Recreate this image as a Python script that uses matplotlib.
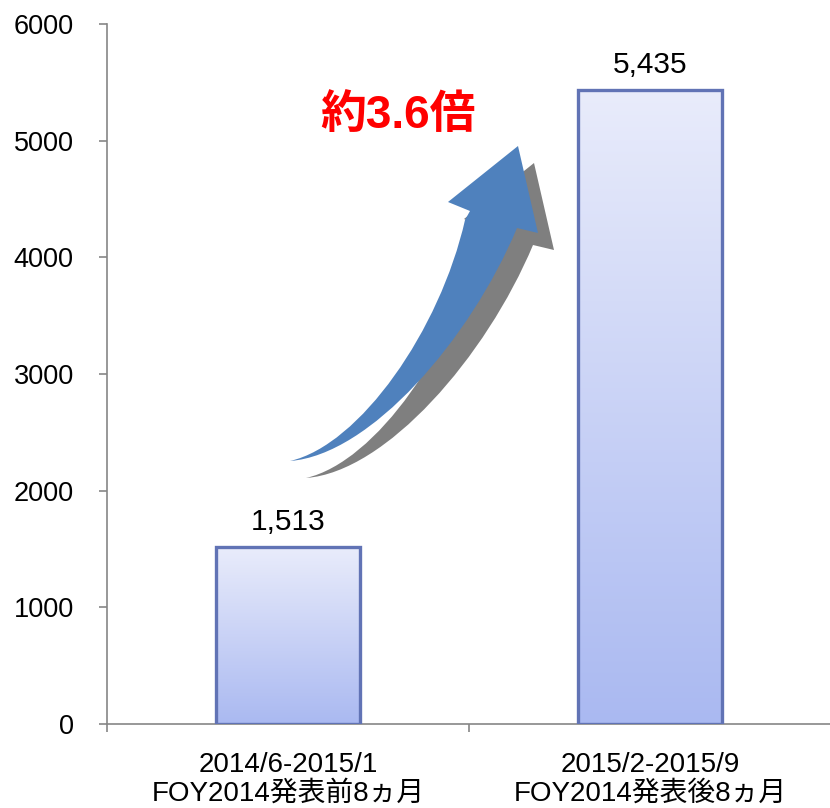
import matplotlib
matplotlib.use("Agg")
import matplotlib.pyplot as plt
import numpy as np
from matplotlib.path import Path
from matplotlib.patches import PathPatch
from matplotlib.colors import LinearSegmentedColormap

categories = ["2014/6-2015/1\nFOY2014発表前8ヵ月", "2015/2-2015/9\nFOY2014発表後8ヵ月"]
values = [1513, 5435]
value_labels = ["1,513", "5,435"]
yticks = [0, 1000, 2000, 3000, 4000, 5000, 6000]
annotation = "約3.6倍"

W, H = 830, 808
fig = plt.figure(figsize=(W / 100, H / 100), dpi=100)
ax = fig.add_axes([107 / W, 84 / H, (831 - 107) / W, (724 - 24) / H])

font = ["Liberation Sans", "Noto Sans CJK JP"]
gray = "#868686"

x = np.arange(len(values))
bars = ax.bar(x, values, width=0.4, facecolor="none", edgecolor="#6173b5",
              linewidth=2.4, zorder=3)
cmap = LinearSegmentedColormap.from_list("g", ["#aab9f1", "#e9ecfb"])
grad = np.linspace(0, 1, 256).reshape(-1, 1)
for b in bars:
    x0, y0 = b.get_x(), b.get_y()
    w, h = b.get_width(), b.get_height()
    im = ax.imshow(grad, cmap=cmap, aspect="auto", origin="lower",
                   extent=[x0, x0 + w, y0, y0 + h], zorder=2)
    im.set_clip_path(b)

for xi, v, lab in zip(x, values, value_labels):
    ax.annotate(lab, (xi, v), xytext=(0, 8), textcoords="offset points",
                ha="center", va="bottom", fontsize=21.5, family=font)

ax.set_xlim(-0.5, len(values) - 0.5)
ax.set_ylim(0, 6000)
ax.set_yticks(yticks)
ax.set_yticklabels([str(t) for t in yticks], fontsize=19.5, family=font)
ax.set_xticks(x)
ax.set_xticklabels(categories, fontsize=20, family=font, linespacing=1.15)
ax.set_xticks(np.arange(-0.5, len(values)), minor=True)
ax.tick_params(axis="x", which="major", length=0, pad=20)
ax.tick_params(axis="x", which="minor", length=6, color=gray, width=1.2, direction="out")
ax.tick_params(axis="y", length=6, color=gray, width=1.2, pad=18)
for s in ["top", "right"]:
    ax.spines[s].set_visible(False)
for s in ["left", "bottom"]:
    ax.spines[s].set_color(gray)
    ax.spines[s].set_linewidth(1.2)

# curved arrow decoration (figure pixel coordinates)
def arrow_path(dx, dy):
    pts = [
        (290, 461),
        (370, 455), (470, 340), (517, 228),
        (538, 233),
        (518, 146),
        (448, 202),
        (470, 211),
        (465, 220),
        (440, 330), (360, 445), (290, 461),
        (290, 461),
    ]
    codes = [Path.MOVETO,
             Path.CURVE4, Path.CURVE4, Path.CURVE4,
             Path.LINETO, Path.LINETO, Path.LINETO, Path.LINETO, Path.LINETO,
             Path.CURVE4, Path.CURVE4, Path.CURVE4,
             Path.CLOSEPOLY]
    v = [((px + dx) / W, 1 - (py + dy) / H) for px, py in pts]
    return Path(v, codes)

fig.patches.append(PathPatch(arrow_path(16, 17), transform=fig.transFigure,
                             facecolor="#7f7f7f", edgecolor="none", zorder=5))
fig.patches.append(PathPatch(arrow_path(0, 0), transform=fig.transFigure,
                             facecolor="#4f81bd", edgecolor="none", zorder=6))

fig.text(398 / W, 1 - 116 / H, annotation, color="#ff0000", fontsize=33,
         fontweight="bold", family=font, ha="center", va="center")

fig.savefig("out.png", dpi=100)
